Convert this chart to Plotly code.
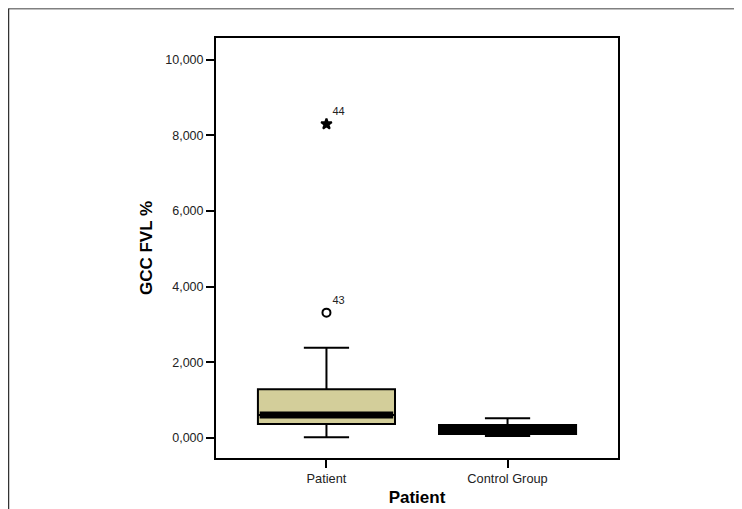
import plotly.graph_objects as go

# ---- data (values in GCC FVL %, decimal comma display) ----
groups = ["Patient", "Control Group"]
q1 = [0.370, 0.106]
median = [0.607, 0.220]
q3 = [1.287, 0.343]
lower_fence = [0.018, 0.053]
upper_fence = [2.386, 0.520]

outlier_group = [0, 0]
outlier_values = [3.311, 8.296]
outlier_labels = ["43", "44"]
outlier_symbols = ["circle-open", "star"]

y_ticks = [0, 2, 4, 6, 8, 10]

# ---- styles ----
FONT = "Liberation Sans, Arial, sans-serif"
box_width = 0.757
fills = ["#D3CE9A", "#000000"]
# page has an 8px body margin; figure sized to fit the 742x509 window
W, H = 734, 501
L, R, T, B = 208, 124, 30, 51

fig = go.Figure()

for i, g in enumerate(groups):
    fig.add_trace(go.Box(
        x=[i], q1=[q1[i]], median=[median[i]], q3=[q3[i]],
        lowerfence=[lower_fence[i]], upperfence=[upper_fence[i]],
        width=box_width, whiskerwidth=0.33,
        fillcolor=fills[i], line=dict(color="black", width=2),
        boxpoints=False, showlegend=False, hoverinfo="skip",
    ))
    # thick median band
    fig.add_trace(go.Scatter(
        x=[i - box_width / 2 + 0.01, i + box_width / 2 - 0.01],
        y=[median[i], median[i]], mode="lines",
        line=dict(color="black", width=7), showlegend=False, hoverinfo="skip",
    ))

for gi, v, lab, sym in zip(outlier_group, outlier_values, outlier_labels, outlier_symbols):
    fig.add_trace(go.Scatter(
        x=[gi], y=[v], mode="markers+text",
        marker=dict(symbol=sym, size=8, color="black",
                    line=dict(color="black", width=2)),
        text=[lab], textposition="top right",
        textfont=dict(family=FONT, size=11, color="#222"),
        showlegend=False, hoverinfo="skip",
    ))

fig.update_layout(
    width=W, height=H,
    margin=dict(l=L, r=R, t=T, b=B),
    paper_bgcolor="white", plot_bgcolor="white",
    separators=",.",
    font=dict(family=FONT, color="#222", size=11),
    xaxis=dict(
        range=[-0.61, 1.61], tickmode="array", tickvals=list(range(len(groups))),
        ticktext=groups, ticks="outside", ticklen=8, tickwidth=2, tickcolor="black",
        showline=True, linewidth=2, linecolor="black", mirror=True,
        showgrid=False, zeroline=False, automargin=False,
        tickfont=dict(family=FONT, size=12.8, color="#222"),
        title=dict(text="<b>Patient</b>", font=dict(family=FONT, size=17, color="black"), standoff=6),
    ),
    yaxis=dict(
        range=[-0.53, 10.57], tickmode="array", tickvals=y_ticks, tickformat=".3f",
        ticks="outside", ticklen=8, tickwidth=2, tickcolor="black",
        showline=True, linewidth=2, linecolor="black", mirror=True,
        showgrid=False, zeroline=False, automargin=False,
        tickfont=dict(family=FONT, size=12.5, color="#222"),
        title=dict(text="<b>GCC FVL %</b>", font=dict(family=FONT, size=17, color="black"), standoff=8),
    ),
)

# outer frame (top and left border)
pw, ph = W - L - R, H - T - B
fx0 = 0.5 / pw - L / pw
fy1 = 1 + (T - 0.5) / ph
fig.add_shape(type="line", xref="paper", yref="paper", x0=fx0, x1=1 + R / pw + 0.1,
              y0=fy1, y1=fy1, line=dict(color="#808080", width=2))
fig.add_shape(type="line", xref="paper", yref="paper", x0=fx0, x1=fx0,
              y0=fy1, y1=-B / ph - 0.1, line=dict(color="#333333", width=1.5))

fig.write_html("out.html")
